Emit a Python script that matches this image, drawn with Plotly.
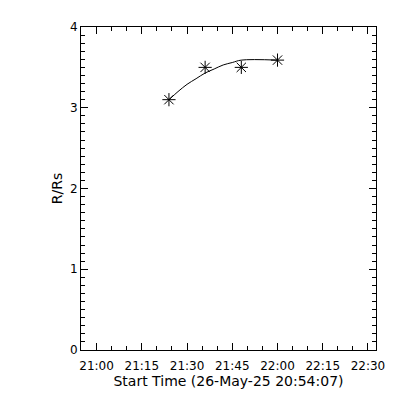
import plotly.graph_objects as go

# observed height-time points
obs_times = ["2025-05-26 21:24:00", "2025-05-26 21:36:00", "2025-05-26 21:48:00", "2025-05-26 22:00:00"]
obs_heights = [3.10, 3.50, 3.50, 3.59]

# fitted curve as drawn
fit_times = ["2025-05-26 21:24:00", "2025-05-26 21:27:00", "2025-05-26 21:30:00", "2025-05-26 21:33:00",
             "2025-05-26 21:36:00", "2025-05-26 21:39:00", "2025-05-26 21:42:00", "2025-05-26 21:45:00",
             "2025-05-26 21:48:00", "2025-05-26 22:00:00"]
fit_heights = [3.10, 3.20, 3.29, 3.36, 3.43, 3.48, 3.53, 3.56, 3.59, 3.59]

x_range = ["2025-05-26 20:54:50", "2025-05-26 22:32:40"]
y_range = [0, 4]
x_title = "Start Time (26-May-25 20:54:07)"
y_title = "R/Rs"

font_family = "DejaVu Sans"

fig = go.Figure()
fig.add_trace(go.Scatter(x=fit_times, y=fit_heights, mode="lines", line_shape="spline",
                         line=dict(color="black", width=1), showlegend=False, hoverinfo="skip"))
fig.add_trace(go.Scatter(x=obs_times, y=obs_heights, mode="markers",
                         marker=dict(symbol="asterisk-open", size=11, color="black",
                                     line=dict(color="black", width=1)),
                         showlegend=False))

fig.update_layout(
    width=400, height=400,
    margin=dict(l=73, r=32, t=15, b=58),
    paper_bgcolor="white", plot_bgcolor="white",
    font=dict(family=font_family, color="black", size=11),
)
fig.update_xaxes(
    type="date", range=x_range,
    tick0="2025-05-26 21:00:00", dtick=900000, tickformat="%H:%M",
    ticks="inside", ticklen=7, tickwidth=1, tickcolor="black",
    minor=dict(dtick=300000, ticks="inside", ticklen=4, tickcolor="black", showgrid=False),
    showline=True, linecolor="black", linewidth=1, mirror="allticks",
    showgrid=False, zeroline=False, ticklabelstandoff=5,
    tickfont=dict(size=12, family=font_family),
    title=dict(text=x_title, font=dict(size=14, family=font_family), standoff=0),
)
fig.update_yaxes(
    range=y_range, dtick=1, tick0=0,
    ticks="inside", ticklen=7, tickwidth=1, tickcolor="black",
    minor=dict(dtick=0.1, ticks="inside", ticklen=4, tickcolor="black", showgrid=False),
    showline=True, linecolor="black", linewidth=1, mirror="allticks",
    showgrid=False, zeroline=False,
    tickfont=dict(size=12, family=font_family),
    title=dict(text=y_title, font=dict(size=14, family=font_family), standoff=4),
)

fig.write_html("out.html")
